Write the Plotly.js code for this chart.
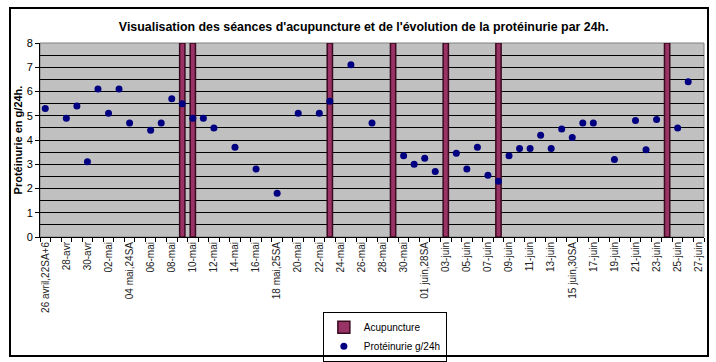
<!DOCTYPE html>
<html>
<head>
<meta charset="utf-8">
<script src="https://cdn.plot.ly/plotly-3.0.1.min.js"></script>
<style>
  html, body { margin: 0; padding: 0; background: #ffffff; }
  #wrap { position: relative; width: 716px; height: 362px; overflow: hidden; }
  #chart { width: 716px; height: 362px; }
  #frame { position: absolute; left: 9px; top: 7px; width: 696px; height: 346px;
           border: 2px solid #000; pointer-events: none; }
</style>
</head>
<body>
<div id="wrap">
  <div id="chart"></div>
  <div id="frame"></div>
</div>
<script>
// ---- data ----
var categories = [
  "26 avril,22SA+6","27-avr","28-avr","29-avr","30-avr",
  "01-mai","02-mai","03-mai","04 mai,24SA","05-mai","06-mai","07-mai","08-mai","09-mai","10-mai",
  "11-mai","12-mai","13-mai","14-mai","15-mai","16-mai","17-mai","18 mai,25SA","19-mai","20-mai",
  "21-mai","22-mai","23-mai","24-mai","25-mai","26-mai","27-mai","28-mai","29-mai","30-mai","31-mai",
  "01 juin,28SA","02-juin","03-juin","04-juin","05-juin","06-juin","07-juin","08-juin","09-juin","10-juin",
  "11-juin","12-juin","13-juin","14-juin","15 juin,30SA","16-juin","17-juin","18-juin","19-juin","20-juin",
  "21-juin","22-juin","23-juin","24-juin","25-juin","26-juin","27-juin"
];

var acuDates  = ["09-mai","10-mai","23-mai","29-mai","03-juin","08-juin","24-juin"];
var acuValues = [8, 8, 8, 8, 8, 8, 8];

var protDates = [
  "26 avril,22SA+6","28-avr","29-avr","30-avr","01-mai","02-mai","03-mai","04 mai,24SA",
  "06-mai","07-mai","08-mai","09-mai","10-mai","11-mai","12-mai","14-mai","16-mai","18 mai,25SA",
  "20-mai","22-mai","23-mai","25-mai","27-mai",
  "30-mai","31-mai","01 juin,28SA","02-juin","04-juin","05-juin","06-juin","07-juin","08-juin",
  "09-juin","10-juin","11-juin","12-juin","13-juin","14-juin","15 juin,30SA","16-juin","17-juin",
  "19-juin","21-juin","22-juin","23-juin","25-juin","26-juin"
];
var protValues = [
  5.3, 4.9, 5.4, 3.1, 6.1, 5.1, 6.1, 4.7,
  4.4, 4.7, 5.7, 5.5, 4.9, 4.9, 4.5, 3.7, 2.8, 1.8,
  5.1, 5.1, 5.6, 7.1, 4.7,
  3.35, 3.0, 3.25, 2.7, 3.45, 2.8, 3.7, 2.55, 2.3,
  3.35, 3.65, 3.65, 4.2, 3.65, 4.45, 4.1, 4.7, 4.7,
  3.2, 4.8, 3.6, 4.85, 4.5, 6.4
];

var titleText = "Visualisation des séances d'acupuncture et de l'évolution de la protéinurie par 24h.";
var yTitle = "Protéinurie en g/24h.";
var acuName = "Acupuncture";
var protName = "Protéinurie g/24h";

// tick labels: every second category shown
var tickLabels = categories.map(function (c, i) { return i % 2 === 0 ? c : ""; });

// ---- traces ----
var traces = [
  {
    type: "bar",
    name: acuName,
    x: acuDates,
    y: acuValues,
    width: 0.5,
    marker: { color: "#993366", line: { color: "#3a0a20", width: 1.5 } },
    hoverinfo: "x+y"
  },
  {
    type: "scatter",
    mode: "markers",
    name: protName,
    x: protDates,
    y: protValues,
    marker: { color: "#000080", size: 7, symbol: "circle" },
    hoverinfo: "x+y"
  }
];

var layout = {
  width: 716,
  height: 362,
  margin: { l: 40, r: 12, t: 43, b: 125, autoexpand: false },
  paper_bgcolor: "#ffffff",
  plot_bgcolor: "#c0c0c0",
  font: { family: "Arial, 'Liberation Sans', sans-serif", size: 10, color: "#000" },
  title: {
    text: titleText,
    font: { family: "Arial, 'Liberation Sans', sans-serif", size: 12.4, color: "#000", weight: "bold" },
    x: 0.508, xanchor: "center",
    y: 0.925, yanchor: "middle"
  },
  showlegend: true,
  legend: {
    x: 0.426, xanchor: "left",
    y: -0.385, yanchor: "top",
    bgcolor: "#ffffff",
    bordercolor: "#000",
    borderwidth: 1,
    font: { size: 10, family: "Arial, 'Liberation Sans', sans-serif" },
    tracegroupgap: 0,
    itemwidth: 30
  },
  bargap: 0,
  xaxis: {
    type: "category",
    categoryorder: "array",
    categoryarray: categories,
    range: [-0.5, categories.length - 0.5],
    tickmode: "array",
    tickvals: categories,
    ticktext: tickLabels,
    tickson: "boundaries",
    ticks: "outside",
    ticklen: 4,
    tickcolor: "#000",
    tickangle: -90,
    tickfont: { size: 10, color: "#222" },
    showgrid: false,
    showline: true,
    linecolor: "#000",
    linewidth: 1,
    zeroline: false,
    automargin: false,
    fixedrange: true
  },
  yaxis: {
    range: [0, 8],
    dtick: 1,
    tick0: 0,
    ticks: "outside",
    ticklen: 4,
    tickcolor: "#000",
    tickfont: { size: 11, color: "#000" },
    showgrid: true,
    gridcolor: "#000",
    gridwidth: 1,
    minor: { dtick: 0.5, showgrid: true, gridcolor: "#000", gridwidth: 1 },
    showline: true,
    linecolor: "#000",
    linewidth: 1,
    zeroline: false,
    automargin: false,
    title: {
      text: yTitle,
      font: { size: 11, color: "#000", weight: "bold" },
      standoff: 1
    },
    fixedrange: true
  },
  shapes: [
    { type: "rect", xref: "paper", yref: "paper", x0: 0, x1: 1, y0: 0, y1: 1,
      line: { color: "#808080", width: 1 }, layer: "below", fillcolor: "rgba(0,0,0,0)" }
  ]
};

Plotly.newPlot("chart", traces, layout, { displayModeBar: false, staticPlot: true });
</script>
</body>
</html>
